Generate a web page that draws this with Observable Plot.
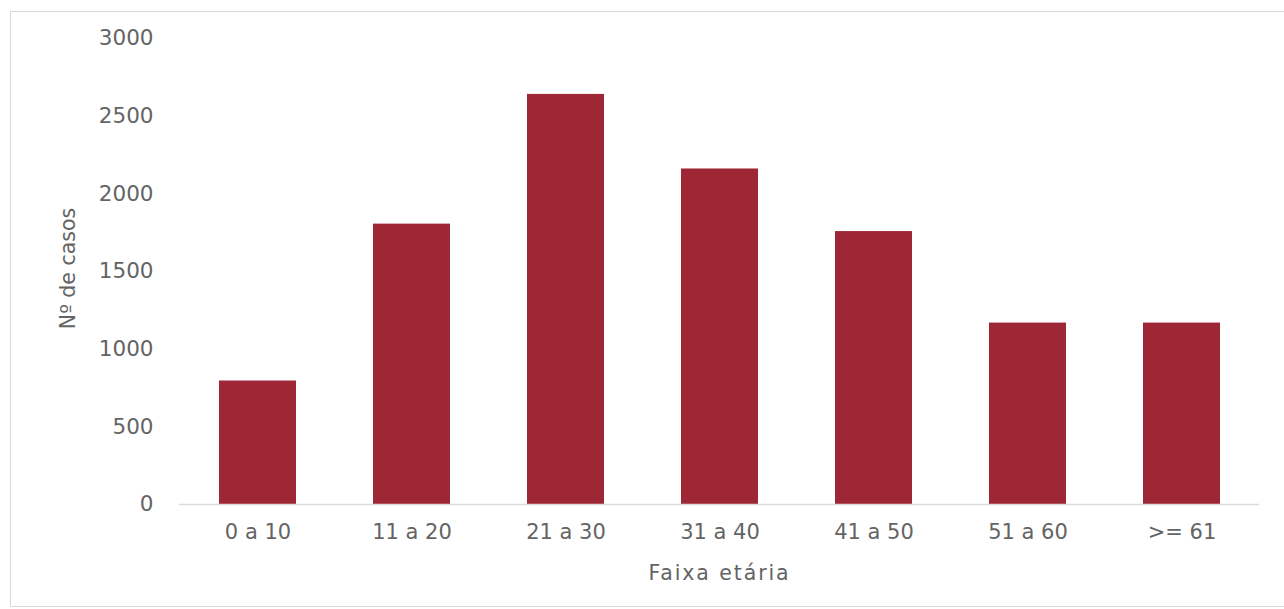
<!DOCTYPE html>
<html>
<head>
<meta charset="utf-8">
<script src="https://cdn.jsdelivr.net/npm/d3@7"></script>
<script src="https://cdn.jsdelivr.net/npm/@observablehq/plot@0.6"></script>
<style>
  html, body { margin: 0; padding: 0; background: #fff; }
  #wrap { position: relative; width: 1284px; height: 609px; overflow: hidden; }
  #frame { position: absolute; left: 10px; top: 11px; width: 1290px; height: 596px; border: 1px solid #d9d9d9; box-sizing: border-box; }
  #chart { position: absolute; left: 0; top: 0; }
</style>
</head>
<body>
<div id="wrap"><div id="frame"></div><div id="chart"></div></div>
<script>
const categories = ["0 a 10", "11 a 20", "21 a 30", "31 a 40", "41 a 50", "51 a 60", ">= 61"];
const casos = [795, 1805, 2640, 2160, 1757, 1168, 1168];
const yTicks = [0, 500, 1000, 1500, 2000, 2500, 3000];
const xTitle = "Faixa etária";
const yTitle = "Nº de casos";

const data = categories.map((c, i) => ({faixa: c, casos: casos[i]}));
const textColor = "#646464";

const chart = Plot.plot({
  width: 1284,
  height: 609,
  marginLeft: 179,
  marginRight: 25,
  marginTop: 38,
  marginBottom: 105,
  style: {fontFamily: "'DejaVu Sans', sans-serif", fontSize: "21px", color: textColor, background: "transparent"},
  x: {domain: categories, paddingInner: 0.5, paddingOuter: 0.25, label: null},
  y: {domain: [0, 3000], label: null},
  marks: [
    Plot.barY(data, {x: "faixa", y: "casos", fill: "#9E2735"}),
    Plot.ruleY([0], {stroke: "#d9d9d9", strokeWidth: 1.5}),
    Plot.axisX({tickSize: 0, tickPadding: 20, label: null, fontSize: 21, fill: textColor}),
    Plot.axisY({ticks: yTicks, tickFormat: d3.format("d"), tickSize: 0, tickPadding: 26, label: null, fontSize: 21.5, fill: textColor}),
    Plot.text([xTitle], {frameAnchor: "bottom", lineAnchor: "middle", textAnchor: "middle", dy: 69, fontSize: 20.5, fill: textColor}),
    Plot.text([yTitle], {frameAnchor: "left", textAnchor: "middle", lineAnchor: "middle", dx: -111, dy: -3, rotate: -90, fontSize: 20.5, fill: textColor})
  ]
});
d3.select(chart).selectAll("text").filter(function() { return this.textContent === xTitle; })
  .attr("letter-spacing", "1.9px");
document.getElementById("chart").appendChild(chart);
</script>
</body>
</html>
